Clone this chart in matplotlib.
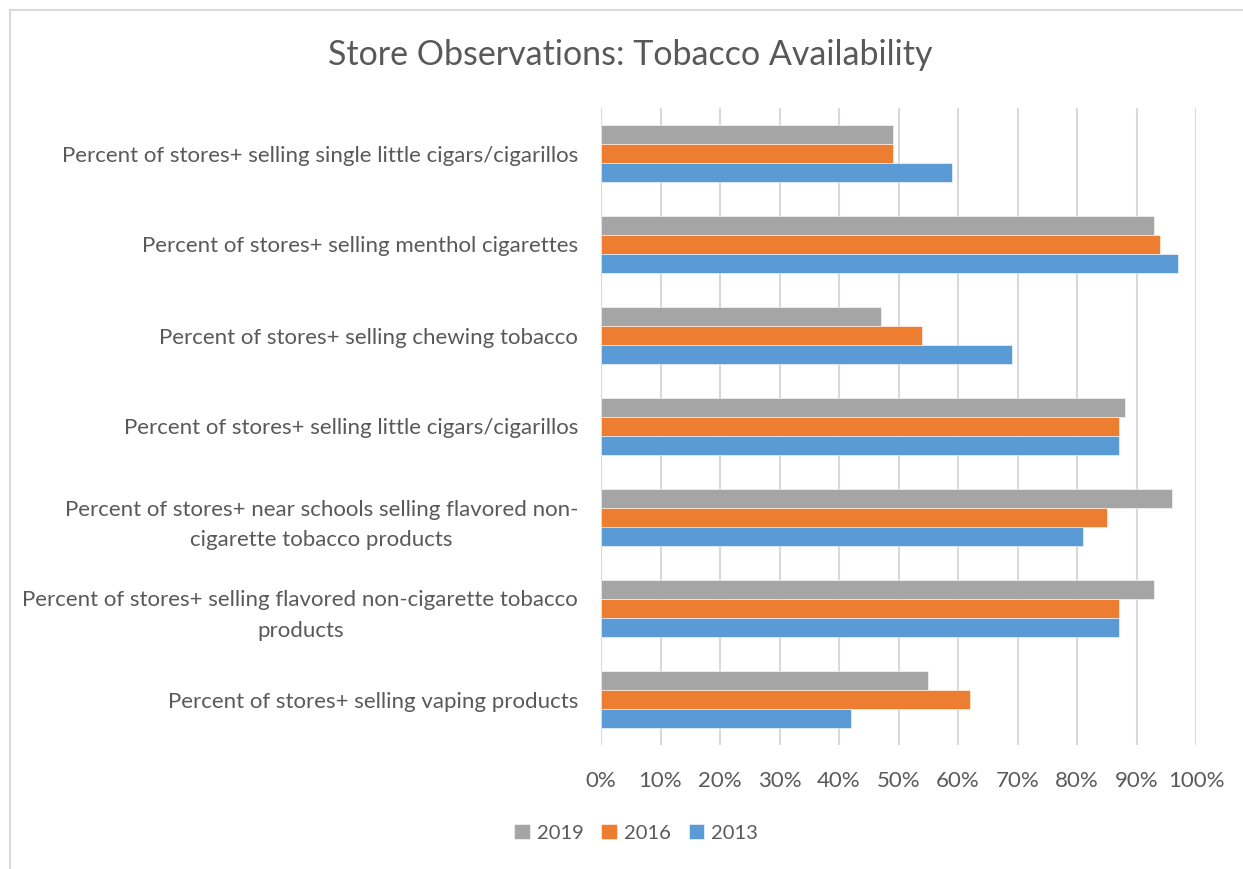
import matplotlib
matplotlib.use('Agg')
import numpy as np
from matplotlib import pyplot as plt
from matplotlib.patches import Rectangle

categories = [
    'Percent of stores+ selling single little cigars/cigarillos',
    'Percent of stores+ selling menthol cigarettes',
    'Percent of stores+ selling chewing tobacco',
    'Percent of stores+ selling little cigars/cigarillos',
    'Percent of stores+ near schools selling flavored non-\ncigarette tobacco products',
    'Percent of stores+ selling flavored non-cigarette tobacco\nproducts',
    'Percent of stores+ selling vaping products',
]
years = ['2019', '2016', '2013']
vals_2019 = [49, 93, 47, 88, 96, 93, 55]
vals_2016 = [49, 94, 54, 87, 85, 87, 62]
vals_2013 = [59, 97, 69, 87, 81, 87, 42]
x_ticks = [0, 10, 20, 30, 40, 50, 60, 70, 80, 90, 100]

colors = ['#A5A5A5', '#ED7D31', '#5B9BD5']
text_color = '#595959'
plt.rcParams['font.family'] = ['Lato', 'DejaVu Sans']

W, H = 1243, 869
fig = plt.figure(figsize=(W / 100, H / 100), dpi=100)

# chart frame (cut off on the right and bottom)
fig.patches.append(Rectangle((10 / W, -0.1), 1.2, 1 - 10 / H + 0.1,
                             transform=fig.transFigure, fill=False,
                             edgecolor='#D9D9D9', linewidth=1.5))

ax = fig.add_axes([601 / W, 1 - 745 / H, (1196 - 601) / W, (745 - 108) / H])

y = np.arange(len(categories))
h = 0.21
for i, (vals, lab) in enumerate(zip([vals_2019, vals_2016, vals_2013], years)):
    ax.barh(y + (i - 1) * h, vals, height=h, color=colors[i], label=lab,
            edgecolor='white', linewidth=0.4, zorder=3)

ax.set_ylim(len(categories) - 0.5, -0.5)
ax.set_xlim(0, 100)
ax.set_xticks(x_ticks)
ax.set_xticklabels([f'{t}%' for t in x_ticks])
ax.set_yticks(y)
ax.set_yticklabels(categories, multialignment='center', linespacing=1.65)
ax.tick_params(axis='both', length=0, labelsize=16, colors=text_color)
ax.tick_params(axis='x', pad=19)
ax.tick_params(axis='y', pad=16.5)
ax.grid(axis='x', color='#D9D9D9', linewidth=1.5, zorder=0)
for s in ax.spines.values():
    s.set_visible(False)

fig.text(630 / W, 1 - 55 / H, 'Store Observations: Tobacco Availability',
         ha='center', va='center', fontsize=24.5, color=text_color)

leg = fig.legend(loc='center', bbox_to_anchor=(636 / W, 1 - 833 / H), ncol=3,
                 frameon=False, fontsize=14.5, handlelength=0.75, handleheight=0.75,
                 handletextpad=0.35, columnspacing=0.9)
for t in leg.get_texts():
    t.set_color(text_color)

fig.savefig('out.png', dpi=100, facecolor='white')
